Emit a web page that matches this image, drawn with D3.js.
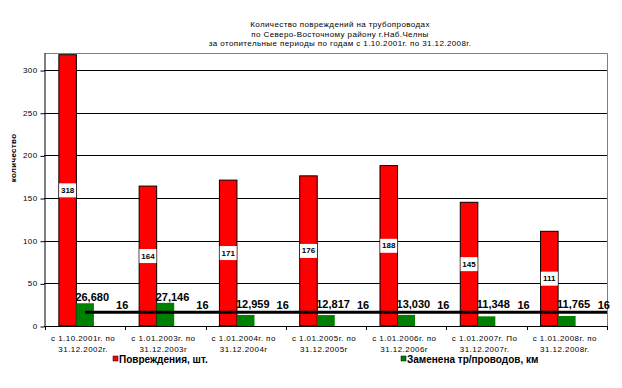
<!DOCTYPE html>
<html><head><meta charset="utf-8">
<script src="https://cdn.jsdelivr.net/npm/d3@7/dist/d3.min.js"></script>
<style>body{margin:0;background:#fff}svg{display:block;font-family:Arial,"Liberation Sans",sans-serif}</style>
</head><body><svg id="c" width="622" height="388"></svg>
<script>
const titleLines = ["Количество повреждений на трубопроводах","по Северо-Восточному району г.Наб.Челны","за отопительные периоды по годам с 1.10.2001г. по 31.12.2008г."];
const categories = [["с 1.10.2001г. по","31.12.2002г."],["с 1.01.2003г. по","31.12.2003г"],["с 1.01.2004г. по","31.12.2004г"],["с 1.01.2005г. по","31.12.2005г"],["с 1.01.2006г. по","31.12.2006г"],["с 1.01.2007г. По","31.12.2007г."],["с 1.01.2008г. по","31.12.2008г."]];
const damages = [318,164,171,176,188,145,111];
const replaced = [26.680,27.146,12.959,12.817,13.030,11.348,11.765];
const norm = [16,16,16,16,16,16,16];
const yTicks = [0,50,100,150,200,250,300];
const seriesNames = ["Повреждения, шт.","Заменена тр/проводов, км"];
const yTitle = "количество";

const svg = d3.select("#c");
const L=44, R=607, T=53, B=326;
const idx = d3.range(categories.length);
const x = d3.scaleBand().domain(idx).range([L+1,R]).paddingInner(0).paddingOuter(0);
const sub = d3.scaleBand().domain(["d","r","n"]).range([0,x.bandwidth()]).paddingInner(0).paddingOuter(0.79);
const y = d3.scaleLinear().domain([0,320]).range([B,T]);
const fmt = v => d3.format(".3f")(v).replace(".",",");

// plot border (top/right)
svg.append("path").attr("d",`M${L},${T+0.5}H${R+0.5}V${B}`).attr("fill","none").attr("stroke","#808080").attr("stroke-width",1);
// gridlines
svg.append("g").selectAll("line").data(yTicks.filter(t=>t>0)).join("line")
  .attr("x1",L).attr("x2",R).attr("y1",d=>Math.round(y(d))+0.5).attr("y2",d=>Math.round(y(d))+0.5)
  .attr("stroke","#000").attr("stroke-width",1);
// y axis
const ya = svg.append("g").attr("transform",`translate(${L+0.5},0)`).call(d3.axisLeft(y).tickValues(yTicks).tickSize(4).tickSizeOuter(0).tickPadding(3));
ya.select(".domain").attr("stroke","#000");
ya.selectAll(".tick line").attr("stroke","#000").attr("transform","translate(0,0.5)");
ya.selectAll(".tick text").attr("font-size","8px").attr("font-family","Arial,'Liberation Sans'").attr("fill","#000").attr("letter-spacing","0.4px");
// y title
svg.append("text").attr("transform",`translate(14,158) rotate(-90)`).attr("text-anchor","middle").attr("dominant-baseline","middle")
  .attr("font-size","8px").attr("font-weight","bold").attr("letter-spacing","0.3px").text(yTitle);

// bars
svg.append("g").selectAll("rect").data(idx).join("rect")
  .attr("x",i=>x(i)+sub("d")).attr("y",i=>y(damages[i])).attr("width",sub.bandwidth()).attr("height",i=>B-y(damages[i]))
  .attr("fill","#ff0000").attr("stroke","#000").attr("stroke-width",1);
svg.append("g").selectAll("rect").data(idx).join("rect")
  .attr("x",i=>x(i)+sub("r")).attr("y",i=>y(replaced[i])).attr("width",sub.bandwidth()).attr("height",i=>B-y(replaced[i]))
  .attr("fill","#008000");

// x axis
svg.append("line").attr("x1",L).attr("x2",R).attr("y1",B+0.5).attr("y2",B+0.5).attr("stroke","#000");
svg.append("g").selectAll("line").data(d3.range(categories.length+1)).join("line")
  .attr("x1",i=>Math.round(x.range()[0]+i*x.step())+0.5).attr("x2",i=>Math.round(x.range()[0]+i*x.step())+0.5)
  .attr("y1",B).attr("y2",B+4).attr("stroke","#000");
const xl = svg.append("g").selectAll("text").data(idx).join("text")
  .attr("x",i=>x(i)+x.bandwidth()/2-2).attr("y",B+15).attr("text-anchor","middle").attr("font-size","8px").attr("fill","#000").attr("letter-spacing","0.45px");
xl.append("tspan").text(i=>categories[i][0]);
xl.append("tspan").attr("x",i=>x(i)+x.bandwidth()/2-2).attr("dy",11).text(i=>categories[i][1]);

// norm line
const lineGen = d3.line().x((d,i)=>i===norm.length-1? R : x(i)+x.bandwidth()/2).y(d=>y(d));
svg.append("path").datum(norm).attr("d",lineGen).attr("fill","none").attr("stroke","#000").attr("stroke-width",3);
svg.append("g").selectAll("text").data(idx).join("text")
  .attr("x",i=>x(i)+x.bandwidth()/2+37).attr("y",i=>y(norm[i])-3.5).attr("text-anchor","middle")
  .attr("font-size","11px").attr("font-weight","bold").text(i=>norm[i]);

// red labels (white boxes)
const rl = svg.append("g").selectAll("g").data(idx).join("g")
  .attr("transform",i=>`translate(${x(i)+sub("d")+sub.bandwidth()/2},${(y(damages[i])+B)/2})`);
rl.append("rect").attr("x",-8.5).attr("y",-7).attr("width",17).attr("height",14).attr("fill","#fff");
rl.append("text").attr("text-anchor","middle").attr("dominant-baseline","central").attr("font-size","8px").attr("font-weight","bold").text(i=>damages[i]);

// green labels
svg.append("g").selectAll("text").data(idx).join("text")
  .attr("x",i=>x(i)+sub("r")-1).attr("y",i=>Math.min(y(replaced[i])-2,y(16)-4))
  .attr("font-size","11px").attr("font-weight","bold").text(i=>fmt(replaced[i]));

// title
svg.append("g").selectAll("text").data(titleLines).join("text")
  .attr("x",340).attr("y",(d,i)=>27+i*9.5).attr("text-anchor","middle").attr("font-size","8px").attr("letter-spacing","0.4px").text(d=>d);

// legend
const lg = [{x:113,c:"#ff0000"},{x:401,c:"#008000"}];
lg.forEach((l,i)=>{
  svg.append("rect").attr("x",l.x).attr("y",356).attr("width",5).attr("height",5).attr("fill",l.c).attr("stroke","#000").attr("stroke-width",0.5);
  svg.append("text").attr("x",l.x+6).attr("y",363).attr("font-size","10px").attr("font-weight","bold").text(seriesNames[i]);
});
</script></body></html>
